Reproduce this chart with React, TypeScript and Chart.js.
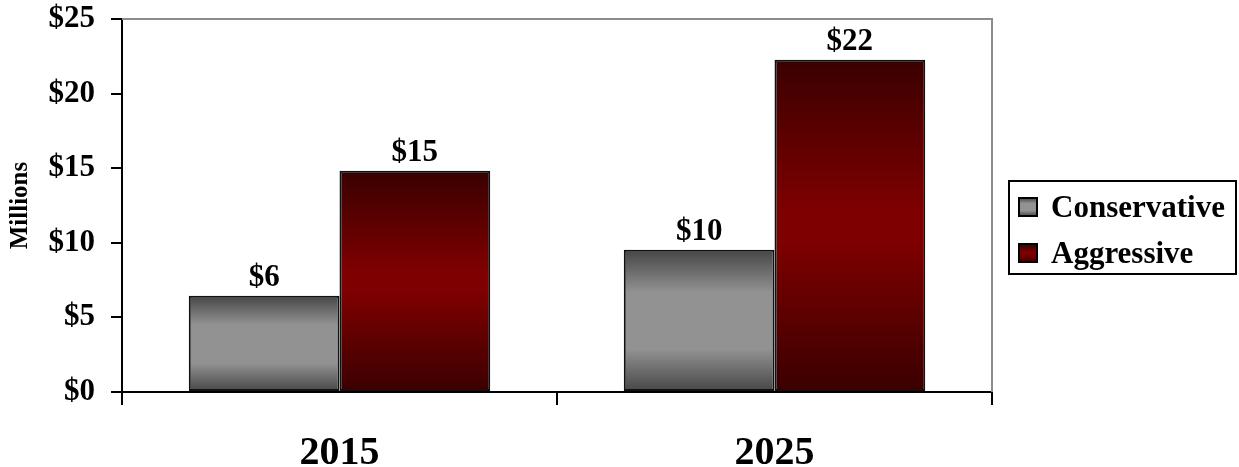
import React, { useEffect, useRef } from "react";
import { Chart, registerables } from "chart.js";

Chart.register(...registerables);

const categories = ["2015", "2025"];
const seriesNames = ["Conservative", "Aggressive"];
const conservativeValues = [6.45, 9.54];
const aggressiveValues = [14.83, 22.27];
const yTicks = [0, 5, 10, 15, 20, 25];

const FONT = "'Liberation Serif', 'Times New Roman', serif";

const grayStops: [number, string][] = [
  [0, "#454545"],
  [0.3, "#929292"],
  [0.7, "#929292"],
  [1, "#454545"],
];
const redStops: [number, string][] = [
  [0, "#3a0000"],
  [0.45, "#7e0000"],
  [0.55, "#7e0000"],
  [1, "#3a0000"],
];

function gradientFill(stops: [number, string][], fallback: string) {
  return (ctx: any) => {
    const chart = ctx.chart;
    if (!chart.chartArea || ctx.type !== "data" || !ctx.parsed) return fallback;
    const y = chart.scales.y;
    const top = y.getPixelForValue(ctx.parsed.y);
    const base = y.getPixelForValue(0);
    const g = chart.ctx.createLinearGradient(0, top, 0, base);
    stops.forEach(([o, c]) => g.addColorStop(o, c));
    return g;
  };
}

const plotBorderPlugin = {
  id: "plotBorder",
  beforeDatasetsDraw(chart: any) {
    const { ctx, chartArea } = chart;
    ctx.save();
    ctx.strokeStyle = "#8c8c8c";
    ctx.lineWidth = 2;
    ctx.beginPath();
    ctx.moveTo(chartArea.left, chartArea.top);
    ctx.lineTo(chartArea.right, chartArea.top);
    ctx.lineTo(chartArea.right, chartArea.bottom);
    ctx.stroke();
    ctx.restore();
  },
};

const valueLabelPlugin = {
  id: "valueLabels",
  afterDatasetsDraw(chart: any) {
    const { ctx } = chart;
    ctx.save();
    ctx.font = `bold 31px ${FONT}`;
    ctx.fillStyle = "#000";
    ctx.textAlign = "center";
    ctx.textBaseline = "alphabetic";
    chart.data.datasets.forEach((ds: any, di: number) => {
      const meta = chart.getDatasetMeta(di);
      meta.data.forEach((bar: any, i: number) => {
        const v = ds.data[i];
        ctx.fillText("$" + Math.round(v), bar.x, bar.y - 10);
      });
    });
    ctx.restore();
  },
};

const boxLegendPlugin = {
  id: "boxLegend",
  afterDraw(chart: any) {
    const { ctx } = chart;
    const x0 = 1009, y0 = 181, w = 227, h = 93;
    ctx.save();
    ctx.fillStyle = "#fff";
    ctx.fillRect(x0, y0, w, h);
    ctx.strokeStyle = "#000";
    ctx.lineWidth = 2;
    ctx.strokeRect(x0, y0, w, h);
    ctx.font = `bold 31px ${FONT}`;
    ctx.textAlign = "left";
    ctx.textBaseline = "alphabetic";
    const stopsList = [grayStops, redStops];
    chart.data.datasets.forEach((ds: any, i: number) => {
      const sy = 198 + i * 46;
      const g = ctx.createLinearGradient(0, sy, 0, sy + 18);
      stopsList[i].forEach(([o, c]) => g.addColorStop(o, c));
      ctx.fillStyle = g;
      ctx.fillRect(1019, sy, 18, 18);
      ctx.strokeStyle = "#000";
      ctx.lineWidth = 2;
      ctx.strokeRect(1019, sy, 18, 18);
      ctx.fillStyle = "#000";
      ctx.fillText(ds.label, 1051, sy + 19);
    });
    ctx.restore();
  },
};

export default function App() {
  const ref = useRef<HTMLCanvasElement | null>(null);

  useEffect(() => {
    document.body.style.margin = "0";
    const canvas = ref.current;
    if (!canvas) return;
    const chart = new Chart(canvas, {
      type: "bar",
      data: {
        labels: categories,
        datasets: [
          {
            label: seriesNames[0],
            data: conservativeValues,
            backgroundColor: gradientFill(grayStops, "#929292"),
            borderColor: "#111",
            borderWidth: 2,
            borderSkipped: false,
            barPercentage: 1,
            categoryPercentage: 0.693,
          },
          {
            label: seriesNames[1],
            data: aggressiveValues,
            backgroundColor: gradientFill(redStops, "#7e0000"),
            borderColor: "#111",
            borderWidth: 2,
            borderSkipped: false,
            barPercentage: 1,
            categoryPercentage: 0.693,
          },
        ],
      },
      options: {
        responsive: false,
        animation: false,
        layout: { padding: { left: 0, top: 19, right: 247, bottom: 0 } },
        plugins: {
          legend: { display: false },
          tooltip: { enabled: false },
          title: { display: false },
        },
        scales: {
          x: {
            offset: true,
            grid: {
              display: true,
              offset: true,
              drawOnChartArea: false,
              drawTicks: true,
              tickLength: 13,
              color: "#000",
              lineWidth: 2,
            },
            border: { display: true, color: "#000", width: 2 },
            ticks: {
              color: "#000",
              font: { family: FONT, size: 40, weight: "bold" },
              padding: 25,
              maxRotation: 0,
            },
            afterFit: (s: any) => {
              s.height = 75;
              s.paddingLeft = 0;
              s.paddingRight = 0;
            },
          },
          y: {
            min: 0,
            max: 25,
            afterBuildTicks: (s: any) => {
              s.ticks = yTicks.map((v) => ({ value: v }));
            },
            grid: {
              display: true,
              drawOnChartArea: false,
              drawTicks: true,
              tickLength: 11,
              color: "#000",
              lineWidth: 2,
            },
            border: { display: true, color: "#000", width: 2 },
            ticks: {
              color: "#000",
              font: { family: FONT, size: 31, weight: "bold" },
              padding: 16,
              callback: (v: any) => "$" + v,
            },
            title: {
              display: true,
              text: "Millions",
              color: "#000",
              font: { family: FONT, size: 25, weight: "bold" },
              padding: { top: 6, bottom: 0 },
            },
            afterFit: (s: any) => {
              s.width = 122;
              s.paddingTop = 0;
              s.paddingBottom = 0;
            },
          },
        },
      },
      plugins: [plotBorderPlugin, valueLabelPlugin, boxLegendPlugin],
    });
    return () => chart.destroy();
  }, []);

  return (
    <div style={{ width: 1239, height: 467 }}>
      <canvas ref={ref} width={1239} height={467} />
    </div>
  );
}
